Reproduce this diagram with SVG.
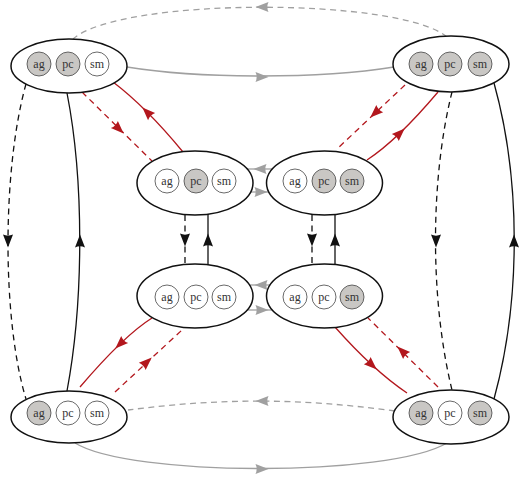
<svg xmlns="http://www.w3.org/2000/svg" xmlns:xlink="http://www.w3.org/1999/xlink" width="520" height="479" viewBox="0 0 520 479">
<style>
.st{fill:#fff;stroke:#111;stroke-width:1.5}
.c{fill:#fff;stroke:#444;stroke-width:0.8}
.c.on{fill:#c9c7c4}
.t{font-family:"Liberation Serif","Times New Roman",serif;font-size:12px;fill:#333;text-anchor:middle}
.e{fill:none;stroke-width:1.3}
.g{stroke:#a0a0a0}
.k{stroke:#111}
.r{stroke:#b3171d}
.d{stroke-dasharray:6 4.5}
.ag{fill:#a0a0a0}
.ak{fill:#111}
.ar{fill:#b3171d}
</style>
<defs>
<path id="ah" d="M6.5,0 L-6.5,-5 Q-4.2,0 -6.5,5 Z"/>
</defs>
<g id="connectors">
<path class="e g d" d="M447 37 C400 -3, 120 -3, 73 39"/>
<use xlink:href="#ah" class="ag" transform="translate(262,7) rotate(180)"/>
<path class="e g" d="M127 67 C200 79, 320 79, 394 67"/>
<use xlink:href="#ah" class="ag" transform="translate(262,77)"/>
<path class="e g d" d="M395 411 C300 398, 220 398, 128 410"/>
<use xlink:href="#ah" class="ag" transform="translate(262,401) rotate(180)"/>
<path class="e g" d="M75 443 C130 477, 390 477, 447 443"/>
<use xlink:href="#ah" class="ag" transform="translate(262,469)"/>
<path class="e k d" d="M26 84 C2 170, 2 320, 26 399"/>
<use xlink:href="#ah" class="ak" transform="translate(8,241) rotate(90)"/>
<path class="e k" d="M67 391 C84 300, 84 180, 67 93"/>
<use xlink:href="#ah" class="ak" transform="translate(80,241) rotate(-90)"/>
<path class="e k d" d="M452 92 C430 180, 430 300, 452 390"/>
<use xlink:href="#ah" class="ak" transform="translate(436,241) rotate(90)"/>
<path class="e k" d="M494 399 C521 300, 521 180, 494 83"/>
<use xlink:href="#ah" class="ak" transform="translate(514,241) rotate(-90)"/>
<path class="e k d" d="M185 215 L185 265"/>
<use xlink:href="#ah" class="ak" transform="translate(185,240) rotate(90)"/>
<path class="e k" d="M208 265 L208 214"/>
<use xlink:href="#ah" class="ak" transform="translate(208,240) rotate(-90)"/>
<path class="e k d" d="M312 215 L312 265"/>
<use xlink:href="#ah" class="ak" transform="translate(312,240) rotate(90)"/>
<path class="e k" d="M335 265 L335 214"/>
<use xlink:href="#ah" class="ak" transform="translate(335,240) rotate(-90)"/>
<path class="e g" d="M272 169 L247 169"/>
<use xlink:href="#ah" class="ag" transform="translate(260,169) rotate(180)"/>
<path class="e g" d="M250 192 L269 192"/>
<use xlink:href="#ah" class="ag" transform="translate(261,192)"/>
<path class="e g" d="M270 285 L249 285"/>
<use xlink:href="#ah" class="ag" transform="translate(261,285) rotate(180)"/>
<path class="e g" d="M247 310 L272 310"/>
<use xlink:href="#ah" class="ag" transform="translate(262,310)"/>
<path class="e r" d="M183 152 Q146 107 113 82"/>
<use xlink:href="#ah" class="ar" transform="translate(147,112) rotate(-135)"/>
<path class="e r d" d="M82 92 L152 161"/>
<use xlink:href="#ah" class="ar" transform="translate(119,129) rotate(44.6)"/>
<path class="e r d" d="M405 85 L338 148"/>
<use xlink:href="#ah" class="ar" transform="translate(375,113) rotate(136.8)"/>
<path class="e r" d="M367 160 Q397.5 140 438 92"/>
<use xlink:href="#ah" class="ar" transform="translate(400,133) rotate(-43.8)"/>
<path class="e r" d="M152 318 Q124 335.5 80 387"/>
<use xlink:href="#ah" class="ar" transform="translate(120,344) rotate(136)"/>
<path class="e r d" d="M115 392 L182 330"/>
<use xlink:href="#ah" class="ar" transform="translate(147,362) rotate(-42.8)"/>
<path class="e r" d="M335 327 Q373 370 407 393"/>
<use xlink:href="#ah" class="ar" transform="translate(372,365) rotate(42.5)"/>
<path class="e r d" d="M438 387 L368 318"/>
<use xlink:href="#ah" class="ar" transform="translate(402,351) rotate(-135.4)"/>
</g>
<g id="n-tl">
<ellipse class="st" cx="69" cy="66" rx="58" ry="27"/>
<circle class="c on" cx="39" cy="64" r="12"/><text class="t" x="39" y="67.5">ag</text>
<circle class="c on" cx="68" cy="64" r="12"/><text class="t" x="68" y="67.5">pc</text>
<circle class="c" cx="97" cy="64" r="12"/><text class="t" x="97" y="67.5">sm</text>
</g>
<g id="n-tr">
<ellipse class="st" cx="451" cy="64" rx="58" ry="28"/>
<circle class="c on" cx="421" cy="64" r="12"/><text class="t" x="421" y="67.5">ag</text>
<circle class="c on" cx="450" cy="64" r="12"/><text class="t" x="450" y="67.5">pc</text>
<circle class="c on" cx="480" cy="64" r="12"/><text class="t" x="480" y="67.5">sm</text>
</g>
<g id="n-ml">
<ellipse class="st" cx="195" cy="183" rx="58" ry="32"/>
<circle class="c" cx="167" cy="181" r="12"/><text class="t" x="167" y="184.5">ag</text>
<circle class="c on" cx="196" cy="181" r="12"/><text class="t" x="196" y="184.5">pc</text>
<circle class="c" cx="224" cy="181" r="12"/><text class="t" x="224" y="184.5">sm</text>
</g>
<g id="n-mr">
<ellipse class="st" cx="324.5" cy="183" rx="58" ry="32"/>
<circle class="c" cx="295" cy="181" r="12"/><text class="t" x="295" y="184.5">ag</text>
<circle class="c on" cx="324" cy="181" r="12"/><text class="t" x="324" y="184.5">pc</text>
<circle class="c on" cx="352" cy="181" r="12"/><text class="t" x="352" y="184.5">sm</text>
</g>
<g id="n-ll">
<ellipse class="st" cx="195" cy="296" rx="58" ry="32"/>
<circle class="c" cx="167" cy="297" r="12"/><text class="t" x="167" y="300.5">ag</text>
<circle class="c" cx="196" cy="297" r="12"/><text class="t" x="196" y="300.5">pc</text>
<circle class="c" cx="224" cy="297" r="12"/><text class="t" x="224" y="300.5">sm</text>
</g>
<g id="n-lr">
<ellipse class="st" cx="324.5" cy="296" rx="58" ry="32"/>
<circle class="c" cx="295" cy="297" r="12"/><text class="t" x="295" y="300.5">ag</text>
<circle class="c" cx="324" cy="297" r="12"/><text class="t" x="324" y="300.5">pc</text>
<circle class="c on" cx="352" cy="297" r="12"/><text class="t" x="352" y="300.5">sm</text>
</g>
<g id="n-bl">
<ellipse class="st" cx="69" cy="417" rx="58" ry="26"/>
<circle class="c on" cx="39" cy="413" r="12"/><text class="t" x="39" y="416.5">ag</text>
<circle class="c" cx="68" cy="413" r="12"/><text class="t" x="68" y="416.5">pc</text>
<circle class="c" cx="97" cy="413" r="12"/><text class="t" x="97" y="416.5">sm</text>
</g>
<g id="n-br">
<ellipse class="st" cx="451" cy="417" rx="58" ry="27"/>
<circle class="c on" cx="421" cy="413" r="12"/><text class="t" x="421" y="416.5">ag</text>
<circle class="c" cx="450" cy="413" r="12"/><text class="t" x="450" y="416.5">pc</text>
<circle class="c on" cx="480" cy="413" r="12"/><text class="t" x="480" y="416.5">sm</text>
</g>
</svg>
